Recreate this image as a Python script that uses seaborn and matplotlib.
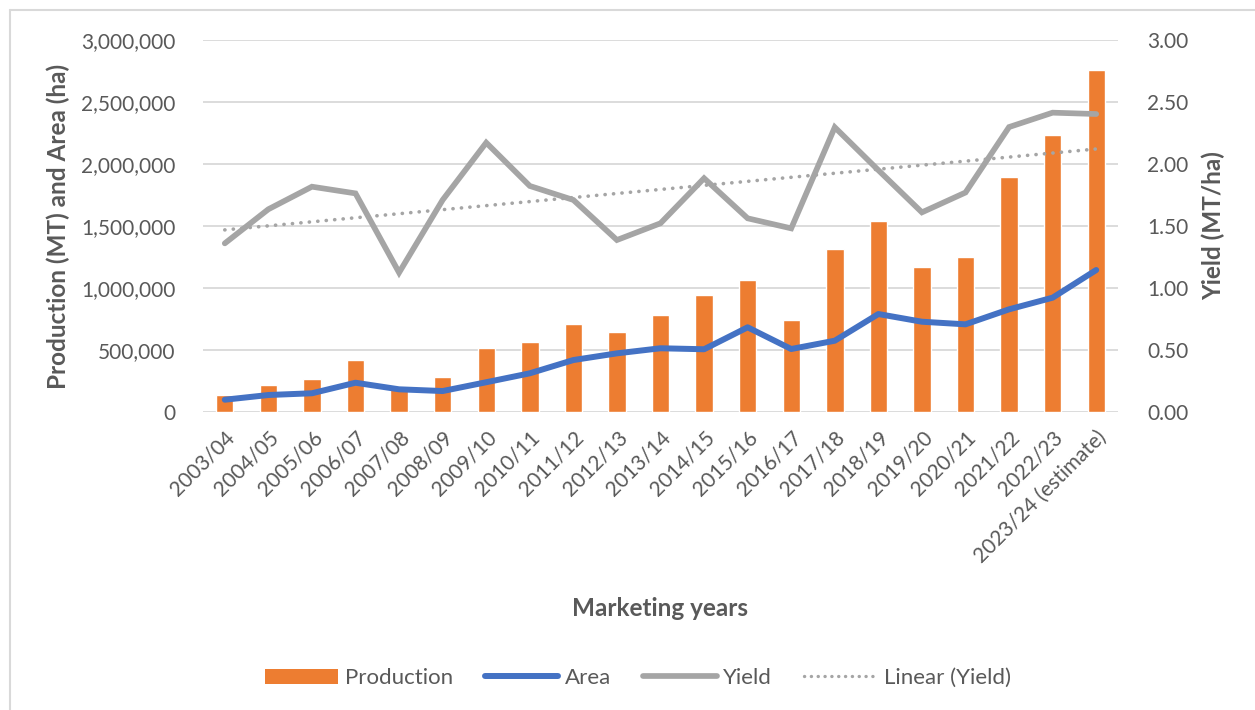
import numpy as np
import pandas as pd
import matplotlib
matplotlib.use("Agg")
import matplotlib.pyplot as plt
import seaborn as sns
from matplotlib.lines import Line2D
from matplotlib.patches import Patch

years = ["2003/04", "2004/05", "2005/06", "2006/07", "2007/08", "2008/09", "2009/10",
         "2010/11", "2011/12", "2012/13", "2013/14", "2014/15", "2015/16", "2016/17",
         "2017/18", "2018/19", "2019/20", "2020/21", "2021/22", "2022/23",
         "2023/24 (estimate)"]
production = [135000, 215000, 268000, 420000, 185000, 280000, 514000, 565000, 712000,
              646000, 785000, 947000, 1068000, 739000, 1315000, 1541000, 1170000,
              1247000, 1898000, 2231000, 2760000]
area = [99000, 137000, 151000, 236000, 183000, 169000, 240000, 312000, 419000, 473000,
        514000, 506000, 683000, 508000, 575000, 790000, 728000, 707000, 828000, 922000,
        1145000]
yield_ = [1.36, 1.635, 1.817, 1.763, 1.124, 1.71, 2.172, 1.823, 1.71, 1.387, 1.522,
          1.885, 1.562, 1.481, 2.296, 1.95, 1.61, 1.77, 2.298, 2.414, 2.403]

left_ticks = [0, 500000, 1000000, 1500000, 2000000, 2500000, 3000000]
right_ticks = [0.0, 0.5, 1.0, 1.5, 2.0, 2.5, 3.0]

df = pd.DataFrame({"year": years, "production": production, "area": area, "yield": yield_})
df["pos"] = np.arange(len(df))
coef = np.polyfit(df["pos"], df["yield"], 1)
df["trend"] = np.polyval(coef, df["pos"])

ORANGE = "#ED7D31"
BLUE = "#4472C4"
GRAY = "#A5A5A5"
GRID = "#D9D9D9"
TXT = "#595959"

sns.set_theme(style="white")
plt.rcParams["font.family"] = ["Lato", "DejaVu Sans"]

fig = plt.figure(figsize=(12.55, 7.10), dpi=100)
ax = fig.add_axes([203 / 1255, 1 - 412 / 710, (1118 - 203) / 1255, (412 - 40) / 710])

sns.barplot(data=df, x="pos", y="production", color=ORANGE, width=0.4, ax=ax,
            saturation=1, zorder=2, native_scale=False)
sns.lineplot(data=df, x="pos", y="area", color=BLUE, lw=4.3, ax=ax, zorder=3,
             solid_capstyle="round", solid_joinstyle="round")

ax2 = ax.twinx()
sns.lineplot(data=df, x="pos", y="yield", color=GRAY, lw=4.1, ax=ax2, zorder=3,
             solid_capstyle="round", solid_joinstyle="miter")
sns.lineplot(data=df, x="pos", y="trend", color=GRAY, lw=2.6, ax=ax2, zorder=2,
             linestyle=(0, (0.05, 2.3)), dash_capstyle="round")

for a in (ax, ax2):
    a.set_xlim(-0.5, len(df) - 0.5)
    for s in a.spines.values():
        s.set_visible(False)
    a.tick_params(length=0, labelsize=15, labelcolor=TXT)

ax.set_ylim(0, 3000000)
ax.set_yticks(left_ticks)
ax.set_yticklabels([f"{v:,}" for v in left_ticks])
ax.yaxis.grid(True, color=GRID, lw=1.3)
ax.set_axisbelow(True)
ax.tick_params(axis="y", pad=20)

ax2.set_ylim(0, 3.0)
ax2.set_yticks(right_ticks)
ax2.set_yticklabels([f"{v:.2f}" for v in right_ticks])
ax2.tick_params(axis="y", pad=21)
ax2.grid(False)

ax.set_xticks(df["pos"])
ax.set_xticklabels(years, rotation=45, ha="right", rotation_mode="anchor")
ax.tick_params(axis="x", pad=11)

ax.set_xlabel("Marketing years", fontsize=17.5, fontweight="bold", color=TXT)
ax.set_ylabel("Production (MT) and Area (ha)", fontsize=17.5, fontweight="bold",
              color=TXT)
ax2.set_ylabel("Yield (MT/ha)", fontsize=17.5, fontweight="bold", color=TXT,
               rotation=90)
ax.xaxis.set_label_coords(0.5, -0.497)
ax.yaxis.set_label_coords(-0.145, 0.5)
ax2.yaxis.set_label_coords(1.091, 0.5)

handles = [
    Patch(facecolor=ORANGE, edgecolor="none"),
    Line2D([], [], color=BLUE, lw=4.3, solid_capstyle="round"),
    Line2D([], [], color=GRAY, lw=4.1, solid_capstyle="round"),
    Line2D([], [], color=GRAY, lw=2.4, linestyle=(0, (0.05, 2.0)), dash_capstyle="round"),
]
labels = ["Production", "Area", "Yield", "Linear (Yield)"]
leg = fig.legend(handles, labels, loc="center", bbox_to_anchor=(638 / 1255, 1 - 678 / 710),
                 ncol=4, frameon=False, fontsize=16, handlelength=3.3,
                 handleheight=0.65, handletextpad=0.3, columnspacing=1.45)
for t in leg.get_texts():
    t.set_color(TXT)

# chart-area border (top and left visible)
fig.add_artist(Line2D([10 / 1255, 10 / 1255], [0, 1 - 10 / 710], transform=fig.transFigure,
                      color=GRID, lw=1.5))
fig.add_artist(Line2D([10 / 1255, 1], [1 - 10 / 710, 1 - 10 / 710], transform=fig.transFigure,
                      color=GRID, lw=1.5))

fig.savefig("out.png", dpi=100, facecolor="white")
